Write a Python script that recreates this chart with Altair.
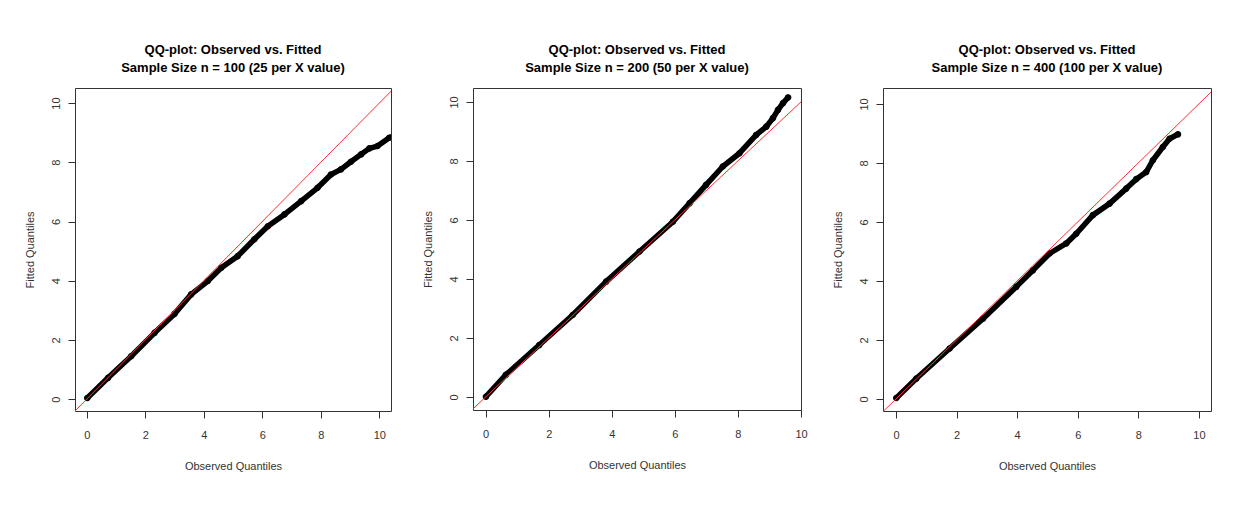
import altair as alt
import pandas as pd

# ---- data ----
tick_values = [0, 2, 4, 6, 8, 10]
ref_line = [-1, 11]

titles = [
    ["QQ-plot: Observed vs. Fitted", "Sample Size n = 100 (25 per X value)"],
    ["QQ-plot: Observed vs. Fitted", "Sample Size n = 200 (50 per X value)"],
    ["QQ-plot: Observed vs. Fitted", "Sample Size n = 400 (100 per X value)"],
]

p1_obs = [0.02, 0.73, 1.52, 2.32, 3.00, 3.57, 4.14, 4.60, 5.16, 5.73, 6.19, 6.76,
          7.33, 7.89, 8.35, 8.69, 9.03, 9.38, 9.66, 9.94, 10.34, 10.50]
p1_fit = [0.04, 0.72, 1.45, 2.24, 2.88, 3.54, 3.99, 4.44, 4.83, 5.40, 5.84, 6.24,
          6.69, 7.14, 7.59, 7.76, 8.02, 8.27, 8.47, 8.55, 8.83, 8.90]

p2_obs = [0.01, 0.64, 1.70, 2.76, 3.82, 4.88, 5.94, 6.47, 6.99, 7.52, 8.05, 8.58,
          8.90, 9.11, 9.27, 9.43, 9.59]
p2_fit = [0.01, 0.75, 1.76, 2.78, 3.91, 4.93, 5.94, 6.57, 7.19, 7.81, 8.26, 8.88,
          9.16, 9.45, 9.73, 9.96, 10.15]

p3_obs = [0.01, 0.67, 1.77, 2.87, 3.97, 4.52, 5.07, 5.62, 5.95, 6.50, 7.05, 7.60,
          7.93, 8.26, 8.48, 8.81, 9.03, 9.31]
p3_fit = [0.03, 0.69, 1.71, 2.72, 3.80, 4.36, 4.93, 5.27, 5.60, 6.23, 6.62, 7.13,
          7.45, 7.69, 8.09, 8.54, 8.82, 8.97]

x_domains = [[-0.4, 10.4], [-0.4, 10.0], [-0.43, 10.4]]
y_domains = [[-0.4, 10.51], [-0.44, 10.47], [-0.41, 10.54]]
sizes = [(316, 323), (328, 322), (328, 323)]

FONT = "Liberation Sans"


def panel(obs, fit, title, xdom, ydom, w, h):
    df = pd.DataFrame({"obs": obs, "fit": fit})
    ref = pd.DataFrame({"obs": ref_line, "fit": ref_line})
    xs = alt.Scale(domain=xdom, nice=False, zero=False)
    ys = alt.Scale(domain=ydom, nice=False, zero=False)
    xa = alt.Axis(values=tick_values, title="Observed Quantiles", labelPadding=11,
                  titlePadding=20, labelFlush=False)
    ya = alt.Axis(values=tick_values, title="Fitted Quantiles", labelAngle=270,
                  labelAlign="center", labelBaseline="bottom", labelPadding=7,
                  titlePadding=15, labelFlush=False)
    X = alt.X("obs:Q", scale=xs, axis=xa)
    Y = alt.Y("fit:Q", scale=ys, axis=ya)
    band = alt.Chart(df).mark_line(color="black", strokeWidth=5.5, strokeCap="round",
                                   strokeJoin="round", clip=True).encode(x=X, y=Y)
    pts = alt.Chart(df).mark_point(shape="circle", filled=False, color="black", size=28,
                                   strokeWidth=1.3, opacity=1, clip=True).encode(x=X, y=Y)
    line = alt.Chart(ref).mark_line(color="#ff3030", strokeWidth=1,
                                    clip=True).encode(x=X, y=Y)
    return alt.layer(band, pts, line).properties(
        width=w, height=h,
        title=alt.TitleParams(text=title, frame="group", anchor="middle"),
    )


panels = [
    panel(p1_obs, p1_fit, titles[0], x_domains[0], y_domains[0], *sizes[0]),
    panel(p2_obs, p2_fit, titles[1], x_domains[1], y_domains[1], *sizes[1]),
    panel(p3_obs, p3_fit, titles[2], x_domains[2], y_domains[2], *sizes[2]),
]

chart = alt.hconcat(*panels, spacing=82, bounds="flush").properties(
    padding={"left": 23, "top": 43, "right": 5, "bottom": 5},
    background="white",
).configure_view(
    stroke="#333333", strokeWidth=1
).configure_axis(
    labelFont=FONT, labelFontSize=11, labelColor="#333333",
    titleFont=FONT, titleFontSize=11, titleColor="#333333", titleFontWeight="normal",
    tickColor="#333333", tickSize=7, tickWidth=1, domain=False, grid=False,
).configure_title(
    font=FONT, fontSize=13, fontWeight="bold", color="black", lineHeight=18, offset=13,
)

chart.save("out.html", embed_options={"renderer": "svg", "actions": False})
